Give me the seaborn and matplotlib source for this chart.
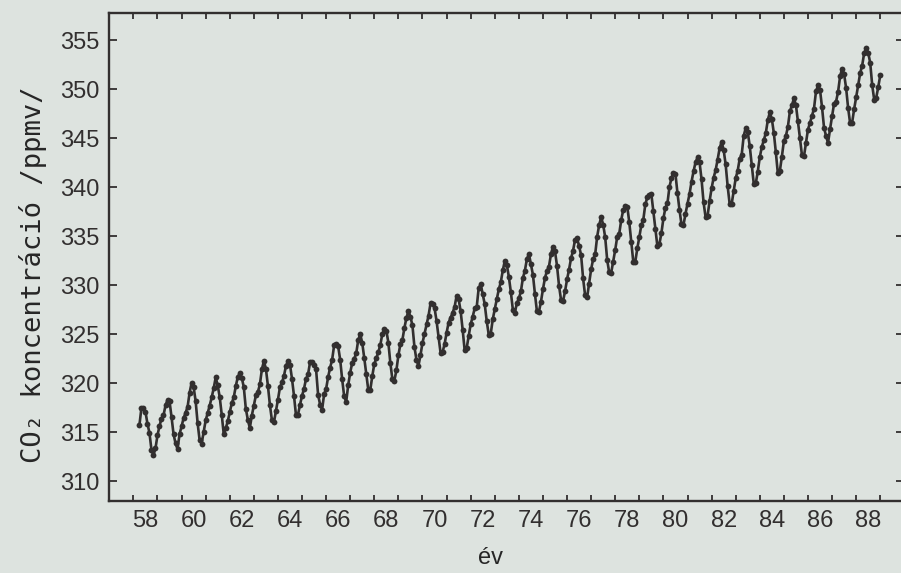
import numpy as np
import pandas as pd
import seaborn as sns
import matplotlib.pyplot as plt

# monthly CO2 (ppmv), starting March 1958
co2_1950s = [315.71, 317.45, 317.50, 317.10, 315.86, 314.93, 313.20, 312.66, 313.33, 314.67,
             315.62, 316.38, 316.71, 317.72, 318.29, 318.15, 316.54, 314.80, 313.84, 313.26, 314.80, 315.58]
co2_1960s = [316.43, 316.97, 317.58, 319.02, 320.03, 319.59, 318.18, 315.91, 314.16, 313.83, 315.00, 316.19,
             316.93, 317.70, 318.54, 319.48, 320.58, 319.77, 318.57, 316.79, 314.80, 315.38, 316.10, 317.01,
             317.94, 318.56, 319.68, 320.63, 321.01, 320.55, 319.58, 317.40, 316.26, 315.42, 316.69, 317.69,
             318.74, 319.08, 319.86, 321.39, 322.25, 321.47, 319.74, 317.77, 316.21, 315.99, 317.12, 318.31,
             319.57, 320.07, 320.73, 321.77, 322.25, 321.89, 320.44, 318.70, 316.70, 316.79, 317.79, 318.71,
             319.44, 320.44, 320.89, 322.13, 322.16, 321.87, 321.39, 318.81, 317.81, 317.30, 318.87, 319.42,
             320.62, 321.59, 322.39, 323.87, 324.01, 323.75, 322.39, 320.37, 318.64, 318.10, 319.79, 321.08,
             322.07, 322.50, 323.04, 324.42, 325.00, 324.09, 322.55, 320.92, 319.31, 319.31, 320.72, 321.96,
             322.57, 323.15, 323.89, 325.02, 325.57, 325.36, 324.14, 322.03, 320.41, 320.25, 321.31, 322.84,
             324.00, 324.42, 325.64, 326.66, 327.34, 326.76, 325.88, 323.67, 322.38, 321.78, 322.85, 324.11]
co2_1970s = [325.03, 325.99, 326.87, 328.13, 328.07, 327.66, 326.35, 324.69, 323.10, 323.16, 323.98, 325.13,
             326.17, 326.68, 327.18, 327.78, 328.92, 328.57, 327.34, 325.46, 323.36, 323.57, 324.80, 326.01,
             326.77, 327.63, 327.75, 329.72, 330.07, 329.09, 328.05, 326.32, 324.93, 325.06, 326.50, 327.55,
             328.54, 329.56, 330.30, 331.50, 332.48, 332.07, 330.87, 329.31, 327.51, 327.18, 328.16, 328.64,
             329.35, 330.71, 331.48, 332.65, 333.20, 332.16, 331.07, 329.12, 327.32, 327.28, 328.30, 329.58,
             330.73, 331.46, 331.90, 333.17, 333.94, 333.45, 331.97, 329.95, 328.50, 328.34, 329.37, 330.58,
             331.59, 332.75, 333.52, 334.64, 334.77, 334.00, 333.06, 330.68, 328.95, 328.75, 330.15, 331.62,
             332.66, 333.13, 334.95, 336.13, 336.93, 336.17, 334.88, 332.56, 331.29, 331.27, 332.41, 333.60,
             334.95, 335.25, 336.66, 337.69, 338.03, 338.01, 336.41, 334.41, 332.37, 332.41, 333.75, 334.90,
             336.14, 336.69, 338.27, 338.95, 339.21, 339.26, 337.54, 335.75, 333.98, 334.19, 335.31, 336.81]
co2_1980s = [337.90, 338.34, 340.01, 340.93, 341.48, 341.33, 339.40, 337.70, 336.19, 336.15, 337.27, 338.32,
             339.29, 340.55, 341.61, 342.53, 343.03, 342.54, 340.78, 338.44, 336.95, 337.08, 338.58, 339.88,
             340.96, 341.73, 342.81, 343.97, 344.63, 343.79, 342.32, 340.09, 338.28, 338.29, 339.60, 340.90,
             341.68, 342.90, 343.33, 345.25, 346.03, 345.63, 344.19, 342.27, 340.35, 340.38, 341.59, 343.05,
             344.10, 344.79, 345.52, 346.84, 347.63, 346.97, 345.53, 343.55, 341.40, 341.67, 343.10, 344.70,
             345.21, 346.16, 347.74, 348.34, 349.06, 348.38, 346.72, 345.02, 343.27, 343.13, 344.49, 345.88,
             346.56, 347.28, 348.01, 349.77, 350.38, 349.93, 348.16, 346.08, 345.22, 344.51, 345.93, 347.21,
             348.52, 348.73, 349.73, 351.31, 352.09, 351.53, 350.11, 348.08, 346.52, 346.59, 347.96, 349.16,
             350.39, 351.64, 352.41, 353.69, 354.21, 353.72, 352.69, 350.40, 348.92, 349.13, 350.20, 351.41]

start_year = 58
start_month = 3
year_labels = ['58', '60', '62', '64', '66', '68', '70', '72', '74', '76', '78', '80', '82', '84', '86', '88']
y_ticks = [310, 315, 320, 325, 330, 335, 340, 345, 350, 355]

values = co2_1950s + co2_1960s + co2_1970s + co2_1980s
month_no = np.arange(len(values)) + start_month
df = pd.DataFrame({'ev': start_year + month_no / 12.0, 'co2': values})

paper = '#dde3df'
ink = '#322f2f'

sns.set_style('white', rc={'axes.facecolor': paper, 'figure.facecolor': paper,
                           'axes.edgecolor': ink, 'text.color': ink,
                           'xtick.color': ink, 'ytick.color': ink})
plt.rcParams['font.family'] = ['Liberation Sans Narrow', 'Liberation Sans', 'DejaVu Sans']

fig = plt.figure(figsize=(9.01, 5.73), dpi=100)
ax = fig.add_axes([0.1213, 0.1262, 0.8824, 0.8516])

sns.lineplot(data=df, x='ev', y='co2', ax=ax, color=ink, linewidth=1.9,
             marker='o', markersize=4.2, markeredgewidth=0)

ax.set_xlim(57, 90)
ax.set_ylim(308, 357.8)

for s in ax.spines.values():
    s.set_linewidth(1.7)
    s.set_visible(True)

# year ticks (no labels), labels centred in the year
ax.set_xticks(np.arange(57, 91))
ax.set_xticklabels([])
ax.set_xticks([int(l) + 0.5 for l in year_labels], minor=True)
ax.set_xticklabels(year_labels, minor=True)
ax.tick_params(axis='x', which='major', direction='in', length=4, width=1.3,
               bottom=True, top=True)
ax.tick_params(axis='x', which='minor', length=0, pad=7, labelsize=17)

ax.set_yticks(y_ticks)
ax.set_yticklabels([str(v) for v in y_ticks])
ax.tick_params(axis='y', direction='in', length=6, width=1.3, left=True, right=True,
               pad=7, labelsize=17)

ax.set_xlabel('év', fontsize=17)
ax.xaxis.set_label_coords((490 - 109.3) / 795, -0.095)
ax.set_ylabel('CO\u2082 koncentráció /ppmv/', fontsize=19.5, family='DejaVu Sans Mono', va='center')
ax.yaxis.set_label_coords((33 - 109.3) / 795, (500.7 - 275) / 488)

fig.savefig('out.png', dpi=100, facecolor=paper)
